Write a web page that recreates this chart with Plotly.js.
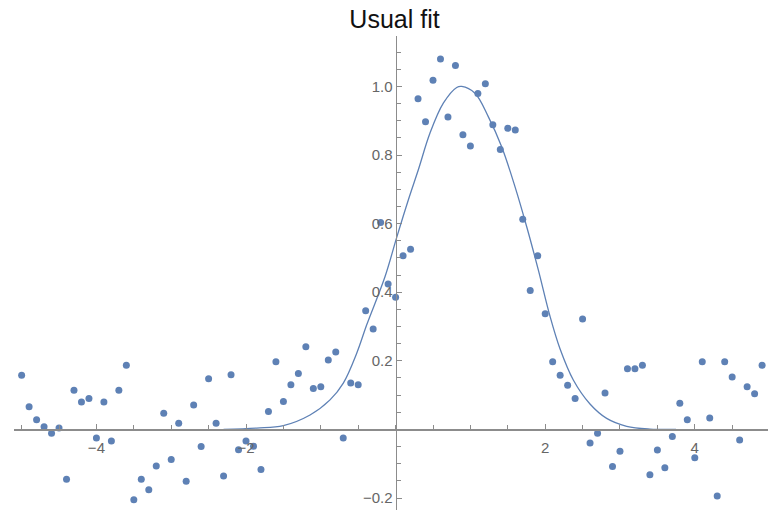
<!DOCTYPE html>
<html>
<head>
<meta charset="utf-8">
<script src="https://cdn.plot.ly/plotly-3.0.1.min.js"></script>
<style>html,body{margin:0;padding:0;background:#fff;}#chart{width:768px;height:510px;}</style>
</head>
<body>
<div id="chart"></div>
<script>
// Data points (x, y)
var dataX = [-5.0,-4.9,-4.8,-4.7,-4.6,-4.5,-4.4,-4.3,-4.2,-4.1,
             -4.0,-3.9,-3.8,-3.7,-3.6,-3.5,-3.4,-3.3,-3.2,-3.1,
             -3.0,-2.9,-2.8,-2.7,-2.6,-2.5,-2.4,-2.3,-2.2,-2.1,
             -2.0,-1.9,-1.8,-1.7,-1.6,-1.5,-1.4,-1.3,-1.2,-1.1,
             -1.0,-0.9,-0.8,-0.7,-0.6,-0.5,-0.4,-0.3,-0.2,-0.1,
              0.0, 0.1, 0.2, 0.3, 0.4, 0.5, 0.6, 0.7, 0.8, 0.9,
              1.0, 1.1, 1.2, 1.3, 1.4, 1.5, 1.6, 1.7, 1.8, 1.9,
              2.0, 2.1, 2.2, 2.3, 2.4, 2.5, 2.6, 2.7, 2.8, 2.9,
              3.0, 3.1, 3.2, 3.3, 3.4, 3.5, 3.6, 3.7, 3.8, 3.9,
              4.0, 4.1, 4.2, 4.3, 4.4, 4.5, 4.6, 4.7, 4.8, 4.9];
var dataY = [0.158, 0.066, 0.028, 0.008,-0.011, 0.004,-0.145, 0.114, 0.080, 0.090,
            -0.025, 0.080,-0.034, 0.114, 0.187,-0.205,-0.145,-0.176,-0.107, 0.047,
            -0.088, 0.018,-0.151, 0.071,-0.050, 0.148, 0.018,-0.136, 0.159,-0.059,
            -0.034,-0.049,-0.117, 0.052, 0.197, 0.081, 0.130, 0.163, 0.241, 0.119,
             0.124, 0.202, 0.226,-0.025, 0.135, 0.130, 0.346, 0.293, 0.603, 0.424,
             0.385, 0.506, 0.525, 0.964, 0.897, 1.018, 1.080, 0.911, 1.061, 0.859,
             0.826, 0.979, 1.008, 0.888, 0.816, 0.878, 0.873, 0.613, 0.405, 0.506,
             0.337, 0.197, 0.158, 0.129, 0.090, 0.322,-0.040,-0.011, 0.106,-0.108,
            -0.064, 0.177, 0.177, 0.187,-0.132,-0.060,-0.112,-0.021, 0.076, 0.028,
            -0.083, 0.197, 0.033,-0.194, 0.197, 0.153,-0.031, 0.124, 0.104, 0.187];

// Fitted curve, values
var fitX = [-2.3,-1.857,-1.501,-1.144,-0.877,-0.699,-0.520,-0.386,-0.142,0.015,
            0.170,0.304,0.460,0.638,0.817,0.884,1.061,1.239,1.418,1.596,
            1.753,1.908,2.064,2.198,2.376,2.599,2.822,3.090,3.401,3.75];
var fitY = [0.000,0.004,0.011,0.042,0.086,0.135,0.222,0.305,0.445,0.560,
            0.669,0.757,0.864,0.951,0.997,1.000,0.980,0.912,0.824,0.708,
            0.591,0.465,0.330,0.235,0.144,0.074,0.032,0.009,0.001,0.000];

var xTickVals = [-4, -2, 2, 4];
var xTickText = ["\u22124", "\u22122", "2", "4"];
var yTickVals = [-0.2, 0.2, 0.4, 0.6, 0.8, 1.0];
var yTickText = ["\u22120.2", "0.2", "0.4", "0.6", "0.8", "1.0"];

var xRange = [-5.102, 4.979];
var yRange = [-0.235, 1.147];

var blue = '#5E81B5';
var axisGray = '#8c8c8c';
var labelGray = '#666666';

var traces = [
  {x: fitX, y: fitY, type: 'scatter', mode: 'lines',
   line: {color: blue, width: 1.3, shape: 'spline', smoothing: 1},
   hoverinfo: 'skip'},
  {x: dataX, y: dataY, type: 'scatter', mode: 'markers',
   marker: {color: blue, size: 7, line: {width: 0}},
   hoverinfo: 'skip'}
];

var layout = {
  width: 768, height: 510,
  margin: {l: 14, r: 0, t: 36, b: 0, pad: 0},
  paper_bgcolor: '#ffffff', plot_bgcolor: '#ffffff',
  showlegend: false,
  hovermode: false,
  title: {text: 'Usual fit', font: {family: 'Liberation Sans, Arial, sans-serif', size: 25, color: '#111'},
          x: 0.5137, xref: 'container', xanchor: 'center', y: 0.962, yref: 'container', yanchor: 'middle'},
  xaxis: {
    range: xRange, showgrid: false, zeroline: false,
    showline: true, linecolor: axisGray, linewidth: 1.3,
    anchor: 'free', position: (0 - yRange[0]) / (yRange[1] - yRange[0]),
    tickmode: 'array', tickvals: xTickVals, ticktext: xTickText,
    ticks: 'inside', ticklen: 5, tickwidth: 1, tickcolor: axisGray,
    ticklabelstandoff: 4,
    minor: {dtick: 0.5, tick0: 0, ticks: 'inside', ticklen: 4, tickwidth: 1, tickcolor: axisGray, showgrid: false},
    tickfont: {family: 'Liberation Sans, Arial, sans-serif', size: 15, color: labelGray}
  },
  yaxis: {
    range: yRange, showgrid: false, zeroline: false,
    showline: true, linecolor: axisGray, linewidth: 1.3,
    anchor: 'free', position: (0 - xRange[0]) / (xRange[1] - xRange[0]),
    tickmode: 'array', tickvals: yTickVals, ticktext: yTickText,
    ticks: 'inside', ticklen: 5, tickwidth: 1, tickcolor: axisGray,
    ticklabelstandoff: 0,
    minor: {dtick: 0.05, tick0: 0, ticks: 'inside', ticklen: 4, tickwidth: 1, tickcolor: axisGray, showgrid: false},
    tickfont: {family: 'Liberation Sans, Arial, sans-serif', size: 15, color: labelGray}
  }
};

Plotly.newPlot('chart', traces, layout, {staticPlot: true, displayModeBar: false});
</script>
</body>
</html>
